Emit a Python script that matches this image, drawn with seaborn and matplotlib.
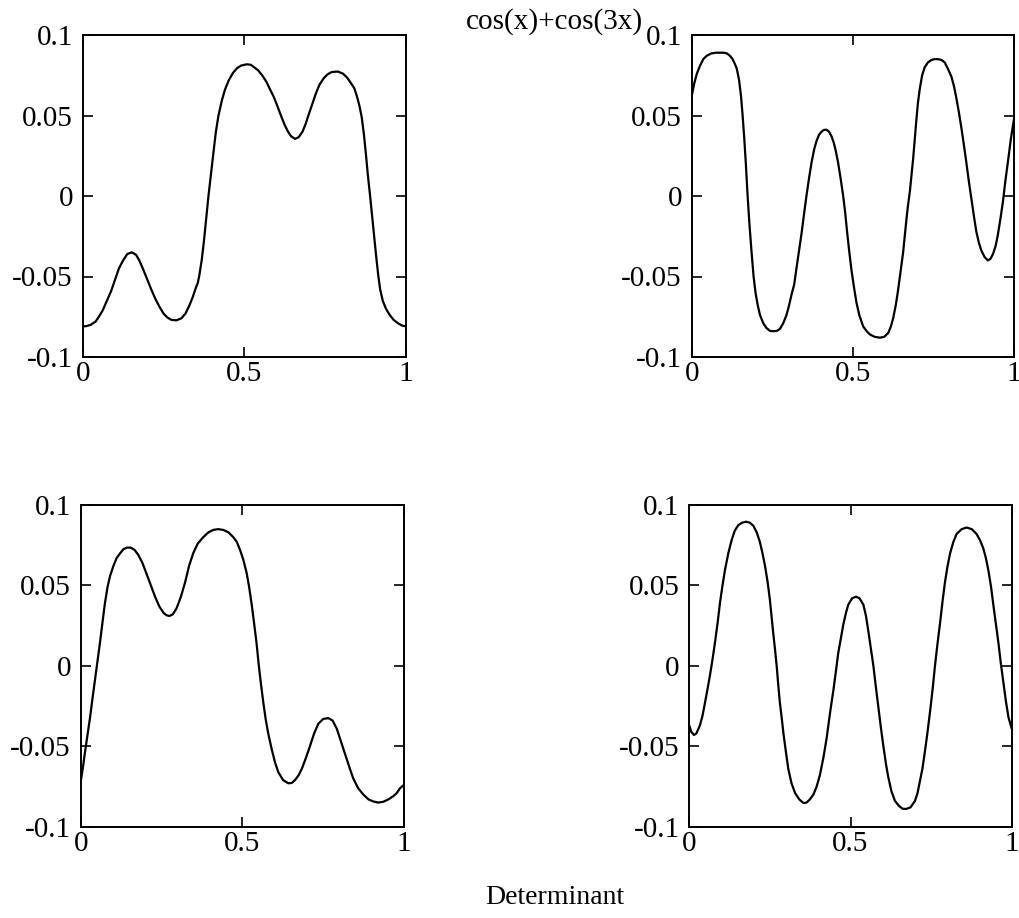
import matplotlib
matplotlib.use("Agg")
import matplotlib.pyplot as plt
import seaborn as sns

# Sampled curve values for the four panels (x in [0, 1])
x_tl = [0.000, 0.012, 0.025, 0.040, 0.050, 0.062, 0.075, 0.088, 0.100, 0.112,
        0.125, 0.138, 0.152, 0.165, 0.175, 0.188, 0.200, 0.212, 0.225, 0.238,
        0.250, 0.262, 0.275, 0.290, 0.305, 0.318, 0.330, 0.340, 0.350, 0.356,
        0.361, 0.368, 0.375, 0.382, 0.389, 0.397, 0.405, 0.412, 0.420, 0.430,
        0.440, 0.452, 0.465, 0.478, 0.490, 0.507, 0.520, 0.530, 0.543, 0.555,
        0.568, 0.580, 0.590, 0.600, 0.615, 0.625, 0.635, 0.645, 0.657, 0.668,
        0.680, 0.690, 0.698, 0.710, 0.720, 0.732, 0.745, 0.757, 0.770, 0.789,
        0.805, 0.818, 0.830, 0.840, 0.848, 0.856, 0.863, 0.870, 0.876, 0.882,
        0.889, 0.896, 0.902, 0.908, 0.914, 0.920, 0.928, 0.938, 0.950, 0.962,
        0.975, 0.988, 1.000]
y_tl = [-0.081, -0.0808, -0.080, -0.078, -0.075, -0.071, -0.065, -0.059, -0.052, -0.045,
        -0.040, -0.036, -0.035, -0.0365, -0.040, -0.046, -0.052, -0.058, -0.064, -0.069,
        -0.073, -0.0755, -0.077, -0.0772, -0.076, -0.073, -0.068, -0.063, -0.057, -0.054,
        -0.049, -0.040, -0.028, -0.014, 0.000, 0.014, 0.028, 0.040, 0.050, 0.059,
        0.066, 0.072, 0.0765, 0.0795, 0.081, 0.0818, 0.0815, 0.080, 0.078, 0.075,
        0.071, 0.066, 0.062, 0.057, 0.049, 0.044, 0.040, 0.037, 0.0355, 0.0365,
        0.040, 0.045, 0.050, 0.057, 0.063, 0.069, 0.073, 0.0755, 0.077, 0.0773,
        0.076, 0.0735, 0.070, 0.067, 0.062, 0.056, 0.049, 0.038, 0.026, 0.013,
        0.000, -0.014, -0.026, -0.038, -0.049, -0.058, -0.065, -0.070, -0.074, -0.077,
        -0.079, -0.0805, -0.081]

x_tr = [0.000, 0.008, 0.016, 0.026, 0.036, 0.046, 0.060, 0.075, 0.088, 0.100,
        0.110, 0.119, 0.127, 0.134, 0.140, 0.147, 0.153, 0.158, 0.163, 0.168,
        0.1735, 0.179, 0.185, 0.192, 0.198, 0.205, 0.212, 0.222, 0.232, 0.243,
        0.253, 0.264, 0.274, 0.284, 0.294, 0.302, 0.310, 0.318, 0.325, 0.333,
        0.341, 0.348, 0.356, 0.364, 0.372, 0.380, 0.387, 0.395, 0.403, 0.410,
        0.418, 0.426, 0.434, 0.441, 0.447, 0.454, 0.462, 0.470, 0.476, 0.482,
        0.488, 0.495, 0.503, 0.511, 0.520, 0.532, 0.543, 0.553, 0.568, 0.584,
        0.597, 0.610, 0.618, 0.625, 0.633, 0.640, 0.648, 0.656, 0.661, 0.666,
        0.671, 0.677, 0.682, 0.687, 0.692, 0.697, 0.702, 0.708, 0.715, 0.723,
        0.733, 0.744, 0.754, 0.764, 0.775, 0.785, 0.795, 0.806, 0.814, 0.821,
        0.829, 0.837, 0.845, 0.852, 0.860, 0.868, 0.876, 0.883, 0.891, 0.899,
        0.909, 0.919, 0.927, 0.935, 0.943, 0.950, 0.958, 0.966, 0.973, 0.981,
        0.990, 1.000]
y_tr = [0.062, 0.070, 0.076, 0.081, 0.085, 0.087, 0.0885, 0.089, 0.089, 0.089,
        0.0885, 0.087, 0.085, 0.082, 0.079, 0.072, 0.062, 0.050, 0.036, 0.020,
        0.000, -0.017, -0.033, -0.050, -0.060, -0.068, -0.074, -0.079, -0.082, -0.0838,
        -0.084, -0.0838, -0.0825, -0.079, -0.074, -0.068, -0.061, -0.055, -0.045, -0.034,
        -0.023, -0.012, 0.000, 0.011, 0.021, 0.029, 0.034, 0.038, 0.040, 0.041,
        0.0412, 0.040, 0.037, 0.033, 0.028, 0.021, 0.011, 0.000, -0.010, -0.022,
        -0.033, -0.045, -0.056, -0.066, -0.074, -0.081, -0.084, -0.086, -0.0875, -0.088,
        -0.0875, -0.085, -0.081, -0.076, -0.068, -0.059, -0.047, -0.035, -0.025, -0.015,
        -0.006, 0.003, 0.013, 0.023, 0.035, 0.047, 0.058, 0.067, 0.075, 0.080,
        0.083, 0.0845, 0.085, 0.085, 0.0845, 0.083, 0.079, 0.074, 0.068, 0.061,
        0.052, 0.042, 0.031, 0.021, 0.009, -0.002, -0.013, -0.022, -0.029, -0.034,
        -0.038, -0.040, -0.039, -0.036, -0.031, -0.024, -0.014, -0.003, 0.009, 0.021,
        0.035, 0.048]

x_bl = [0.000, 0.007, 0.013, 0.021, 0.029, 0.036, 0.044, 0.052, 0.060, 0.068,
        0.075, 0.083, 0.091, 0.101, 0.111, 0.122, 0.132, 0.143, 0.155, 0.167,
        0.178, 0.191, 0.204, 0.217, 0.230, 0.243, 0.256, 0.265, 0.274, 0.285,
        0.297, 0.310, 0.323, 0.335, 0.348, 0.362, 0.379, 0.395, 0.410, 0.425,
        0.441, 0.457, 0.472, 0.483, 0.493, 0.503, 0.513, 0.521, 0.529, 0.536,
        0.544, 0.551, 0.558, 0.565, 0.572, 0.580, 0.591, 0.601, 0.611, 0.626,
        0.642, 0.653, 0.663, 0.674, 0.684, 0.697, 0.709, 0.722, 0.735, 0.750,
        0.766, 0.779, 0.792, 0.805, 0.818, 0.831, 0.843, 0.858, 0.874, 0.890,
        0.905, 0.920, 0.936, 0.952, 0.967, 0.978, 0.988, 1.000]
y_bl = [-0.072, -0.063, -0.054, -0.043, -0.032, -0.021, -0.009, 0.003, 0.015, 0.028,
        0.039, 0.049, 0.056, 0.062, 0.067, 0.070, 0.0725, 0.0735, 0.0735, 0.072,
        0.069, 0.064, 0.057, 0.050, 0.043, 0.037, 0.033, 0.0315, 0.031, 0.032,
        0.036, 0.043, 0.052, 0.062, 0.070, 0.076, 0.080, 0.083, 0.0845, 0.085,
        0.0845, 0.083, 0.080, 0.077, 0.072, 0.066, 0.058, 0.049, 0.038, 0.027,
        0.014, 0.000, -0.012, -0.023, -0.033, -0.042, -0.052, -0.060, -0.066, -0.071,
        -0.073, -0.0728, -0.071, -0.068, -0.064, -0.057, -0.050, -0.042, -0.036, -0.033,
        -0.0325, -0.034, -0.039, -0.047, -0.055, -0.063, -0.070, -0.076, -0.080, -0.083,
        -0.0843, -0.085, -0.0845, -0.083, -0.081, -0.079, -0.076, -0.074]

x_br = [0.000, 0.006, 0.0145, 0.022, 0.033, 0.041, 0.0486, 0.056, 0.064, 0.072,
        0.080, 0.088, 0.095, 0.103, 0.111, 0.121, 0.131, 0.141, 0.152, 0.164,
        0.176, 0.188, 0.199, 0.209, 0.219, 0.227, 0.235, 0.243, 0.250, 0.255,
        0.260, 0.266, 0.271, 0.276, 0.281, 0.287, 0.292, 0.300, 0.307, 0.317,
        0.328, 0.341, 0.354, 0.364, 0.374, 0.385, 0.395, 0.405, 0.416, 0.426,
        0.436, 0.447, 0.455, 0.462, 0.470, 0.478, 0.486, 0.493, 0.505, 0.517,
        0.528, 0.540, 0.548, 0.555, 0.563, 0.571, 0.578, 0.586, 0.594, 0.602,
        0.610, 0.617, 0.627, 0.638, 0.650, 0.661, 0.672, 0.686, 0.700, 0.708,
        0.715, 0.723, 0.731, 0.739, 0.747, 0.755, 0.762, 0.770, 0.778, 0.786,
        0.793, 0.801, 0.809, 0.819, 0.829, 0.845, 0.860, 0.876, 0.891, 0.902,
        0.912, 0.920, 0.928, 0.936, 0.943, 0.951, 0.959, 0.966, 0.974, 0.982,
        0.990, 1.000]
y_br = [-0.037, -0.041, -0.043, -0.042, -0.037, -0.031, -0.023, -0.015, -0.006, 0.004,
        0.015, 0.027, 0.039, 0.050, 0.060, 0.070, 0.078, 0.084, 0.0875, 0.089,
        0.0896, 0.089, 0.087, 0.083, 0.077, 0.070, 0.062, 0.052, 0.041, 0.031,
        0.021, 0.010, 0.000, -0.012, -0.023, -0.033, -0.042, -0.054, -0.064, -0.073,
        -0.079, -0.083, -0.0853, -0.085, -0.083, -0.080, -0.075, -0.068, -0.057, -0.045,
        -0.030, -0.015, -0.003, 0.008, 0.017, 0.026, 0.033, 0.038, 0.042, 0.043,
        0.042, 0.038, 0.031, 0.022, 0.011, 0.000, -0.012, -0.025, -0.038, -0.050,
        -0.061, -0.069, -0.078, -0.084, -0.087, -0.0888, -0.089, -0.088, -0.084, -0.079,
        -0.072, -0.064, -0.053, -0.041, -0.028, -0.014, 0.000, 0.014, 0.027, 0.041,
        0.052, 0.062, 0.070, 0.077, 0.082, 0.085, 0.086, 0.085, 0.082, 0.078,
        0.073, 0.067, 0.059, 0.049, 0.038, 0.026, 0.014, 0.002, -0.010, -0.022,
        -0.032, -0.039]

x_ticks = [0, 0.5, 1]
x_tick_labels = ["0", "0.5", "1"]
y_ticks = [-0.1, -0.05, 0, 0.05, 0.1]
y_tick_labels = ["-0.1", "-0.05", "0", "0.05", "0.1"]

title_text = "cos(x)+cos(3x)"
xlabel_text = "Determinant"

sns.set_style("ticks")
plt.rcParams["font.family"] = ["Liberation Serif", "DejaVu Serif"]

W, H = 1020, 918
fig = plt.figure(figsize=(W / 100, H / 100), dpi=100)

# Panel boxes in pixel coordinates: (left, top, right, bottom)
boxes = [
    (82.7, 35, 406, 357),
    (691.7, 35, 1014, 357),
    (80.7, 505, 404, 826.7),
    (689.3, 505, 1011.7, 826.7),
]
series = [(x_tl, y_tl), (x_tr, y_tr), (x_bl, y_bl), (x_br, y_br)]

for (l, t, r, b), (xs, ys) in zip(boxes, series):
    ax = fig.add_axes([l / W, 1 - b / H, (r - l) / W, (b - t) / H])
    sns.lineplot(x=xs, y=ys, ax=ax, color="black", linewidth=1.6,
                 estimator=None, sort=False)
    ax.set_xlim(0, 1)
    ax.set_ylim(-0.1, 0.1)
    ax.set_xticks(x_ticks)
    ax.set_xticklabels(x_tick_labels)
    ax.set_yticks(y_ticks)
    ax.set_yticklabels(y_tick_labels)
    ax.tick_params(direction="in", top=True, right=True, length=7.5,
                   width=1.2, labelsize=21, colors="black")
    ax.tick_params(axis="x", pad=3)
    ax.tick_params(axis="y", pad=7)
    for sp in ax.spines.values():
        sp.set_visible(True)
        sp.set_linewidth(1.4)
        sp.set_color("black")
    ax.set_facecolor("white")

fig.text(554 / W, 1 - 22 / H, title_text, ha="center", va="center",
         fontsize=21, color="black")
fig.text(555 / W, 1 - 897 / H, xlabel_text, ha="center", va="center",
         fontsize=20, color="black")

fig.savefig("out.png", dpi=100, facecolor="white")
